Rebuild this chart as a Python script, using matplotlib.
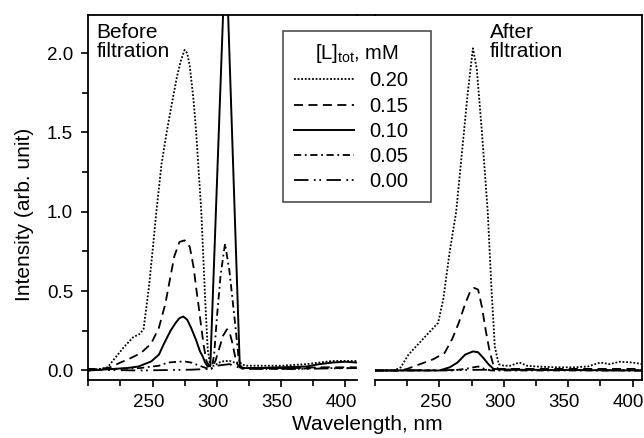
import matplotlib
matplotlib.use("Agg")
import matplotlib.pyplot as plt
import matplotlib.transforms as mtransforms
from matplotlib.lines import Line2D
from matplotlib.ticker import MultipleLocator

plt.rcParams['font.family'] = ['Liberation Sans', 'DejaVu Sans']
plt.rcParams['mathtext.fontset'] = 'custom'
plt.rcParams['mathtext.rm'] = 'Liberation Sans'
plt.rcParams['mathtext.it'] = 'Liberation Sans:italic'

# ---------------- data: before filtration ----------------
b020_x = [200, 210, 215, 222, 228, 235, 240, 243, 247, 250, 253, 257, 261, 265, 269, 272, 275, 277, 279, 282, 284, 286, 288, 291, 293, 295, 298, 302, 306, 310, 314, 318, 322, 330, 340, 350, 360, 370, 380, 390, 400, 409]
b020_y = [0.0, 0.01, 0.02, 0.09, 0.15, 0.21, 0.23, 0.26, 0.51, 0.75, 1.0, 1.3, 1.5, 1.68, 1.85, 1.95, 2.02, 2.0, 1.92, 1.7, 1.5, 1.25, 1.0, 0.45, 0.13, 0.03, 0.03, 0.05, 0.06, 0.06, 0.05, 0.05, 0.03, 0.03, 0.03, 0.03, 0.035, 0.04, 0.05, 0.06, 0.06, 0.06]

b015_x = [200, 210, 217, 225, 231, 241, 249, 255, 260, 263, 267, 271, 275, 279, 282, 284, 286, 288, 290, 292, 294, 296, 299, 302, 305, 308, 310, 312, 314, 316, 318, 322, 340, 360, 380, 400, 409]
b015_y = [0.0, 0.01, 0.02, 0.05, 0.07, 0.11, 0.17, 0.27, 0.42, 0.55, 0.72, 0.81, 0.82, 0.78, 0.65, 0.52, 0.4, 0.27, 0.15, 0.06, 0.03, 0.02, 0.06, 0.14, 0.22, 0.26, 0.24, 0.18, 0.1, 0.04, 0.02, 0.015, 0.015, 0.015, 0.02, 0.02, 0.02]

b010_x = [200, 210, 220, 230, 239, 249, 255, 259, 264, 268, 271, 274, 277, 280, 284, 287, 289, 291, 293, 295, 307, 318, 320, 330, 350, 370, 380, 390, 400, 409]
b010_y = [0.0, 0.005, 0.01, 0.015, 0.025, 0.057, 0.1, 0.17, 0.25, 0.3, 0.33, 0.34, 0.32, 0.27, 0.19, 0.12, 0.09, 0.05, 0.025, 0.03, 2.7, 0.02, 0.015, 0.015, 0.02, 0.025, 0.04, 0.05, 0.055, 0.05]

b005_x = [200, 220, 240, 255, 262, 270, 275, 280, 285, 290, 294, 296, 298, 300, 303, 306.5, 310, 314, 317, 319, 322, 340, 360, 380, 400, 409]
b005_y = [0.01, 0.01, 0.015, 0.03, 0.05, 0.055, 0.057, 0.05, 0.035, 0.02, 0.01, 0.01, 0.1, 0.32, 0.6, 0.8, 0.62, 0.32, 0.08, 0.02, 0.015, 0.01, 0.01, 0.015, 0.015, 0.015]

b000_x = [200, 240, 280, 295, 300, 310, 320, 360, 409]
b000_y = [0.005, 0.0, 0.005, 0.01, 0.03, 0.04, 0.01, 0.01, 0.015]

# ---------------- data: after filtration ----------------
a020_x = [200, 215, 220, 226, 234, 242, 249, 253, 258, 263, 266, 269, 272, 276, 279, 283, 287.5, 290.5, 293, 296, 300, 305, 312, 318, 325, 340, 355, 365, 375, 382, 390, 400, 407]
a020_y = [0.0, 0.0, 0.02, 0.1, 0.17, 0.24, 0.3, 0.45, 0.75, 1.0, 1.25, 1.5, 1.75, 2.03, 1.9, 1.5, 1.0, 0.5, 0.15, 0.04, 0.03, 0.03, 0.05, 0.03, 0.025, 0.02, 0.02, 0.025, 0.05, 0.04, 0.055, 0.05, 0.04]

a015_x = [200, 220, 225, 235, 245, 254, 260, 265, 270, 274, 277, 280, 283, 286, 289, 292, 296, 320, 407]
a015_y = [0.0, 0.0, 0.01, 0.04, 0.07, 0.11, 0.2, 0.3, 0.42, 0.5, 0.52, 0.51, 0.4, 0.25, 0.12, 0.03, 0.01, 0.01, 0.01]

a010_x = [200, 250, 258, 264, 270, 276, 280, 284, 288, 292, 300, 407]
a010_y = [0.0, 0.0, 0.02, 0.05, 0.1, 0.12, 0.115, 0.08, 0.04, 0.01, 0.005, 0.0]

a005_x = [200, 260, 270, 280, 285, 290, 407]
a005_y = [0.0, 0.0, 0.01, 0.025, 0.01, 0.0, 0.0]

a000_x = [200, 300, 407]
a000_y = [0.0, 0.005, 0.0]

labels = ["0.20", "0.15", "0.10", "0.05", "0.00"]
x_ticks = [250, 300, 350, 400]
y_ticks = [0.0, 0.5, 1.0, 1.5, 2.0]
y_ticklabels = ["0.0", "0.5", "1.0", "1.5", "2.0"]

styles = [
    dict(linestyle=(0, (1, 1)), lw=1.3),
    dict(linestyle=(0, (5, 3)), lw=1.3),
    dict(linestyle='-', lw=1.4),
    dict(linestyle=(0, (4, 2, 1, 2)), lw=1.3),
    dict(linestyle=(0, (8, 3, 1, 2, 1, 3)), lw=1.3),
]

fig = plt.figure(figsize=(6.44, 4.38), dpi=100)
bottom = 1 - 380 / 438
top = 1 - 15 / 438
axL = fig.add_axes([88.3 / 644, bottom, (356.7 - 88.3) / 644, top - bottom])
axR = fig.add_axes([375 / 644, bottom, (641.7 - 375) / 644, top - bottom])

before = [(b020_x, b020_y), (b015_x, b015_y), (b010_x, b010_y), (b005_x, b005_y), (b000_x, b000_y)]
after = [(a020_x, a020_y), (a015_x, a015_y), (a010_x, a010_y), (a005_x, a005_y), (a000_x, a000_y)]

for (x, y), st in zip(before, styles):
    axL.plot(x, y, color='black', **st)
for (x, y), st in zip(after, styles):
    axR.plot(x, y, color='black', **st)

shift = mtransforms.ScaledTranslation(-4 / 100, 0, fig.dpi_scale_trans)
for ax in (axL, axR):
    ax.set_ylim(-0.06, 2.24)
    ax.set_xticks(x_ticks)
    ax.xaxis.set_minor_locator(MultipleLocator(25))
    ax.tick_params(axis='x', which='both', direction='out', labelsize=13.5, width=1.2, pad=5)
    ax.tick_params(axis='x', which='major', length=5)
    ax.tick_params(axis='x', which='minor', length=4)
    for s in ax.spines.values():
        s.set_linewidth(1.3)
    for lab in ax.get_xticklabels():
        lab.set_transform(lab.get_transform() + shift)

axL.set_xlim(200, 409)
axR.set_xlim(200, 407)

axL.spines['right'].set_visible(False)
axL.yaxis.set_minor_locator(MultipleLocator(0.25))
axL.set_yticks(y_ticks)
axL.set_yticklabels(y_ticklabels)
axL.tick_params(axis='y', which='both', direction='out', labelsize=13.5, width=1.2, pad=6)
axL.tick_params(axis='y', which='major', length=5)
axL.tick_params(axis='y', which='minor', length=4)

axR.spines['left'].set_visible(False)
axR.tick_params(axis='y', which='both', left=False, right=False, labelleft=False)

# continuous top border across the gap
fig.add_artist(Line2D([356.7 / 644, 375 / 644], [top, top], color='black', lw=1.3,
                      transform=fig.transFigure))

axL.text(0.03, 0.978, "Before\nfiltration", transform=axL.transAxes, ha='left', va='top',
         fontsize=15, linespacing=1.0)
axR.text(0.43, 0.978, "After\nfiltration", transform=axR.transAxes, ha='left', va='top',
         fontsize=15, linespacing=1.0)

fig.text(367 / 644, 1 - 425 / 438, "Wavelength, nm", ha='center', va='center', fontsize=15)
fig.text(25 / 644, 1 - 214 / 438, "Intensity (arb. unit)", ha='center', va='center',
         rotation=90, fontsize=15)

handles = [Line2D([], [], color='black', **st) for st in styles]
leg = fig.legend(handles, labels, loc='upper left',
                 bbox_to_anchor=(283 / 644, 1 - 203 / 438, 148 / 644, 172 / 438),
                 bbox_transform=fig.transFigure, mode='expand',
                 title="[L]$_\\mathrm{tot}$, mM",
                 fontsize=14.5, title_fontsize=14.5, frameon=True, fancybox=False,
                 handlelength=3.0, handletextpad=0.75, labelspacing=0.31,
                 borderpad=0.55, borderaxespad=0.0)
leg.get_frame().set_edgecolor('#222222')
leg.get_frame().set_linewidth(1.2)

fig.savefig("out.png", dpi=100)
